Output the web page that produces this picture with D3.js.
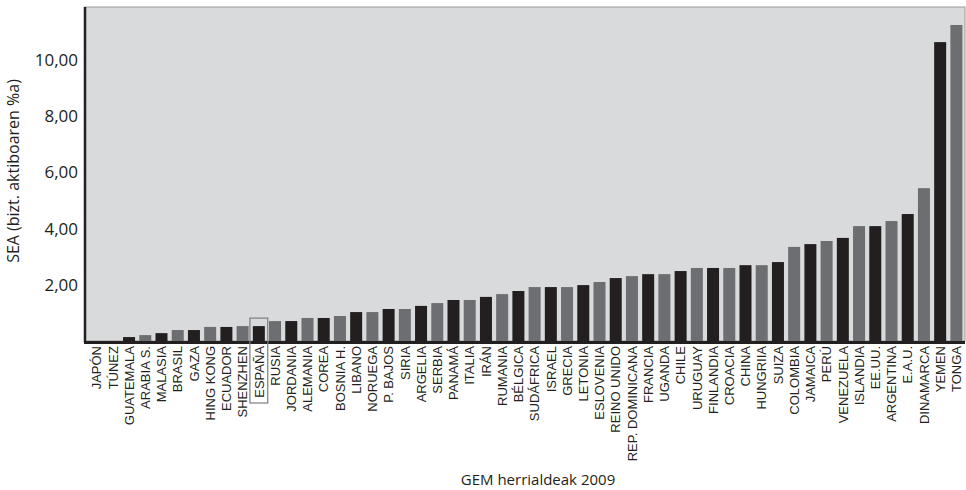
<!DOCTYPE html>
<html>
<head>
<meta charset="utf-8">
<script src="https://cdn.jsdelivr.net/npm/d3@7"></script>
<style>
  html, body { margin: 0; padding: 0; background: #ffffff; }
  svg { display: block; }
  .xlab text { font-family: "Liberation Sans", Arial, sans-serif; }
</style>
</head>
<body>
<svg id="chart" width="966" height="490"></svg>
<script>
const countries = ["JAPÓN","TÚNEZ","GUATEMALA","ARABIA S.","MALASIA","BRASIL","GAZA","HING KONG","ECUADOR","SHENZHEN","ESPAÑA","RUSIA","JORDANIA","ALEMANIA","COREA","BOSNIA H.","LIBANO","NORUEGA","P. BAJOS","SIRIA","ARGELIA","SERBIA","PANAMÁ","ITALIA","IRÁN","RUMANIA","BÉLGICA","SUDÁFRICA","ISRAEL","GRECIA","LETONIA","ESLOVENIA","REINO UNIDO","REP. DOMINICANA","FRANCIA","UGANDA","CHILE","URUGUAY","FINLANDIA","CROACIA","CHINA","HUNGRIIA","SUIZA","COLOMBIA","JAMAICA","PERÚ","VENEZUELA","ISLANDIA","EE.UU.","ARGENTINA","E.A.U.","DINAMARCA","YEMEN","TONGA"];
const values = [0,0,0.14,0.21,0.28,0.39,0.39,0.50,0.50,0.53,0.53,0.71,0.71,0.82,0.82,0.89,1.03,1.03,1.14,1.14,1.25,1.35,1.46,1.46,1.57,1.67,1.78,1.92,1.92,1.92,1.99,2.10,2.24,2.31,2.38,2.38,2.49,2.60,2.60,2.60,2.70,2.70,2.81,3.35,3.45,3.56,3.67,4.09,4.09,4.27,4.52,5.44,10.64,11.25];
const yTicks = [2,4,6,8,10];
const yTickLabels = ["2,00","4,00","6,00","8,00","10,00"];
const highlight = "ESPAÑA";
const yTitle = "SEA (bizt. aktiboaren %a)";
const xTitle = "GEM herrialdeak 2009";

const svg = d3.select("#chart");
const pLeft = 85, pRight = 965, pTop = 7, pBottom = 341;

const x = d3.scaleBand().domain(countries).range([88.5, 964.5]).paddingInner(0.26).paddingOuter(0.13);
const y = d3.scaleLinear().domain([0, 11.89]).range([pBottom, pTop]);

svg.append("rect").attr("x", pLeft).attr("y", pTop).attr("width", pRight - pLeft).attr("height", pBottom - pTop)
  .attr("fill", "#d9dadc").attr("stroke", "#9a9a9a").attr("stroke-width", 1);

svg.append("g").selectAll("rect").data(countries).join("rect")
  .attr("x", d => x(d))
  .attr("y", (d, i) => y(values[i]))
  .attr("width", x.bandwidth())
  .attr("height", (d, i) => y(0) - y(values[i]))
  .attr("fill", (d, i) => i % 2 === 0 ? "#231f20" : "#6d6e71");

svg.append("line").attr("x1", pLeft).attr("x2", pLeft).attr("y1", pTop).attr("y2", pBottom + 1.5)
  .attr("stroke", "#231f20").attr("stroke-width", 2.5);
svg.append("line").attr("x1", pLeft - 1).attr("x2", pRight).attr("y1", pBottom + 1.5).attr("y2", pBottom + 1.5)
  .attr("stroke", "#231f20").attr("stroke-width", 3);

const yAxis = d3.axisLeft(y).tickValues(yTicks).tickFormat((d, i) => yTickLabels[i]).tickSize(0).tickPadding(7);
const gy = svg.append("g").attr("transform", `translate(${pLeft},0)`).call(yAxis);
gy.select(".domain").remove();
gy.selectAll("text").attr("font-family", "'Open Sans', sans-serif").attr("font-size", 17).attr("fill", "#231f20");

const xAxis = d3.axisBottom(x).tickSize(0).tickPadding(0);
const gx = svg.append("g").attr("class", "xlab").attr("transform", `translate(0,${pBottom + 5})`).call(xAxis);
gx.attr("font-family", null).attr("font-size", null);
gx.select(".domain").remove();
gx.selectAll("text")
  .attr("font-size", 13)
  .attr("fill", "#231f20")
  .attr("text-anchor", "end")
  .attr("transform", "rotate(-90)")
  .attr("x", 0)
  .attr("y", 0)
  .attr("dx", 0)
  .attr("dy", "0.36em");

const hi = countries.indexOf(highlight);
const bx = x(highlight) + x.bandwidth() / 2;
svg.append("rect")
  .attr("x", bx - x.step() * 0.55)
  .attr("y", y(values[hi]) - 8)
  .attr("width", x.step() * 1.1)
  .attr("height", 403 - (y(values[hi]) - 8))
  .attr("fill", "none").attr("stroke", "#7d7d7d").attr("stroke-width", 1.2);

svg.append("text").attr("transform", `translate(19,171) rotate(-90)`)
  .attr("text-anchor", "middle")
  .attr("font-family", "'Open Sans', sans-serif").attr("font-size", 16).attr("fill", "#231f20")
  .text(yTitle);
svg.append("text").attr("x", 538).attr("y", 485)
  .attr("text-anchor", "middle")
  .attr("font-family", "'Open Sans', sans-serif").attr("font-size", 15).attr("fill", "#231f20")
  .text(xTitle);
</script>
</body>
</html>
